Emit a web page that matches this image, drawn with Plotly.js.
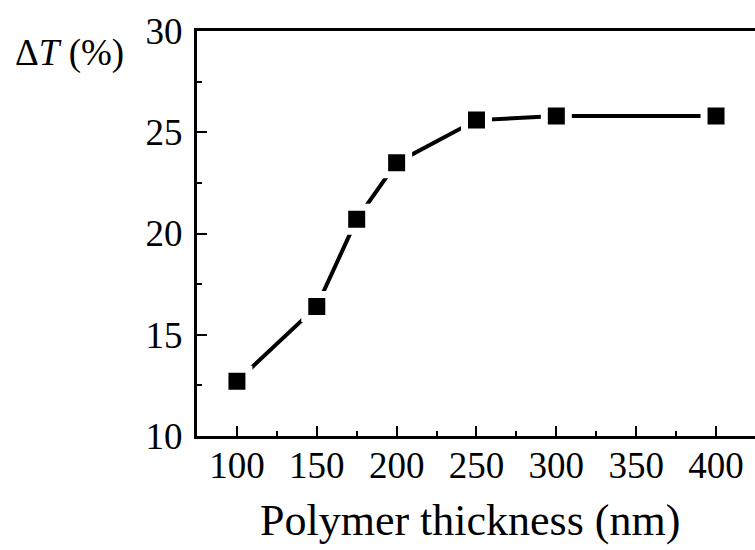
<!DOCTYPE html>
<html>
<head>
<meta charset="utf-8">
<script src="https://cdn.plot.ly/plotly-3.0.1.min.js"></script>
<style>html,body{margin:0;padding:0;background:#fff;}#chart{width:755px;height:550px;}</style>
</head>
<body>
<div id="chart"></div>
<script>
const thickness = [100, 150, 175, 200, 250, 300, 400];
const deltaT = [12.7, 16.4, 20.7, 23.5, 25.6, 25.8, 25.8];
const xTicks = [100, 150, 200, 250, 300, 350, 400];
const yTicks = [10, 15, 20, 25, 30];
const xTitle = 'Polymer thickness (nm)';
const yLabel = '\u0394<i>T</i> (%)';

const font = 'Liberation Serif, Times New Roman, serif';

const trace = {
  x: thickness,
  y: deltaT,
  type: 'scatter',
  mode: 'lines+markers',
  line: {color: '#000', width: 4},
  marker: {symbol: 'square', size: 24, color: '#000', line: {color: '#fff', width: 7}},
  cliponaxis: false,
  showlegend: false
};

const layout = {
  width: 755,
  height: 550,
  margin: {l: 197, r: 0, t: 31, b: 114},
  paper_bgcolor: '#fff',
  plot_bgcolor: '#fff',
  font: {family: font, color: '#000'},
  xaxis: {
    range: [75, 424.4],
    tickmode: 'array',
    tickvals: xTicks,
    ticktext: xTicks.map(String),
    ticks: 'inside',
    ticklen: 10,
    tickwidth: 2,
    tickcolor: '#000',
    ticklabelstandoff: -5,
    minor: {dtick: 25, tick0: 75, ticks: 'inside', ticklen: 5, tickwidth: 2, tickcolor: '#000'},
    showline: true,
    linewidth: 3,
    linecolor: '#000',
    mirror: true,
    showgrid: false,
    zeroline: false,
    tickfont: {family: font, size: 37, color: '#000'}
  },
  yaxis: {
    range: [10, 30],
    tickmode: 'array',
    tickvals: yTicks,
    ticktext: yTicks.map(String),
    ticks: 'inside',
    ticklen: 10,
    tickwidth: 2,
    tickcolor: '#000',
    ticklabelstandoff: 4,
    minor: {dtick: 2.5, tick0: 10, ticks: 'inside', ticklen: 5, tickwidth: 2, tickcolor: '#000'},
    showline: true,
    linewidth: 3,
    linecolor: '#000',
    mirror: false,
    showgrid: false,
    zeroline: false,
    tickfont: {family: font, size: 37, color: '#000'}
  },
  annotations: [{
    text: yLabel,
    xref: 'paper', yref: 'paper',
    x: (13-197)/558, y: 1 - (53-31)/405,
    xanchor: 'left', yanchor: 'middle',
    showarrow: false,
    font: {family: font, size: 37, color: '#000'}
  }, {
    text: xTitle,
    xref: 'paper', yref: 'paper',
    x: (470-197)/558, y: -(520-436)/405,
    xanchor: 'center', yanchor: 'middle',
    showarrow: false,
    font: {family: font, size: 44, color: '#000'}
  }]
};

Plotly.newPlot('chart', [trace], layout, {displayModeBar: false, staticPlot: true});
</script>
</body>
</html>
